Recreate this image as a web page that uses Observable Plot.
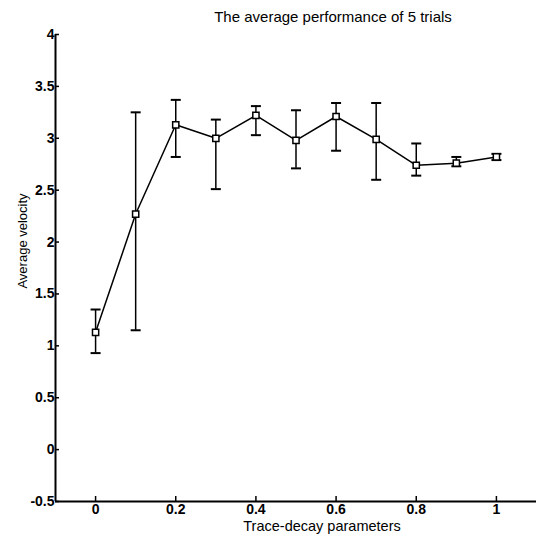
<!DOCTYPE html>
<html>
<head>
<meta charset="utf-8">
<script src="https://cdn.jsdelivr.net/npm/d3@7"></script>
<script src="https://cdn.jsdelivr.net/npm/@observablehq/plot@0.6"></script>
<style>
  html, body { margin: 0; padding: 0; background: #fff; }
  #title { height: 26px; width: 536px; box-sizing: border-box; padding-top: 9px; padding-left: 130px; text-align: center;
           font-family: "Liberation Sans", Arial, sans-serif; font-size: 15px; color: #000; line-height: 16px; white-space: nowrap; }
  #chart svg { display: block; }
  #chart svg g[aria-label="x-axis tick label"], #chart svg g[aria-label="y-axis tick label"] { font-weight: bold; }
</style>
</head>
<body>
<div id="title">The average performance of 5 trials</div>
<div id="chart"></div>
<script>
const traceDecay = [0, 0.1, 0.2, 0.3, 0.4, 0.5, 0.6, 0.7, 0.8, 0.9, 1.0];
const meanVelocity = [1.13, 2.27, 3.13, 3.00, 3.22, 2.98, 3.21, 2.99, 2.74, 2.76, 2.82];
const errLow  = [0.93, 1.15, 2.82, 2.51, 3.03, 2.71, 2.88, 2.60, 2.64, 2.73, 2.79];
const errHigh = [1.35, 3.25, 3.37, 3.18, 3.31, 3.27, 3.34, 3.34, 2.95, 2.82, 2.85];
const xTicks = [0, 0.2, 0.4, 0.6, 0.8, 1];
const yTicks = [-0.5, 0, 0.5, 1, 1.5, 2, 2.5, 3, 3.5, 4];

const data = traceDecay.map((x, i) => ({x, y: meanVelocity[i], lo: errLow[i], hi: errHigh[i]}));

const capSymbol = { draw(ctx) { ctx.moveTo(-5, 0); ctx.lineTo(5, 0); } };
const font = "Liberation Sans, Arial, sans-serif";

const chart = Plot.plot({
  width: 536,
  height: 510,
  marginTop: 8,
  marginBottom: 35,
  marginLeft: 55,
  marginRight: 0,
  style: { fontFamily: font, fontSize: "14px", color: "#000", background: "#fff", overflow: "visible" },
  x: { domain: [-0.1, 1.1] },
  y: { domain: [-0.5, 4] },
  marks: [
    Plot.ruleX([-0.1], { stroke: "#000", strokeWidth: 2 }),
    Plot.ruleY([-0.5], { stroke: "#000", strokeWidth: 2 }),
    Plot.axisX({ ticks: xTicks, tickSize: -5, tickFormat: () => "", label: null, strokeWidth: 1.5 }),
    Plot.axisX({ ticks: xTicks, tickSize: 0, tickPadding: 3, tickFormat: d => String(d), label: null, fontSize: 14 }),
    Plot.axisY({ ticks: yTicks, tickSize: -4, tickFormat: () => "", label: null, strokeWidth: 1.5 }),
    Plot.axisY({ ticks: yTicks, tickSize: 0, tickPadding: 1, tickFormat: d => String(d), label: null, fontSize: 14 }),
    Plot.text(["Trace-decay parameters"], { frameAnchor: "bottom", dx: 26, dy: 29, fontSize: 14.5, fill: "#000" }),
    Plot.text(["Average velocity"], { frameAnchor: "left", textAnchor: "middle", rotate: -90, dx: -33, dy: -27, fontSize: 13, fill: "#000" }),
    Plot.ruleX(data, { x: "x", y1: "lo", y2: "hi", stroke: "#000", strokeWidth: 1.5 }),
    Plot.dot(data, { x: "x", y: "lo", symbol: capSymbol, stroke: "#000", strokeWidth: 2, fill: "none" }),
    Plot.dot(data, { x: "x", y: "hi", symbol: capSymbol, stroke: "#000", strokeWidth: 2, fill: "none" }),
    Plot.line(data, { x: "x", y: "y", stroke: "#000", strokeWidth: 1.5 }),
    Plot.dot(data, { x: "x", y: "y", symbol: "square", r: 3.5, fill: "#fff", stroke: "#000", strokeWidth: 1.5 })
  ]
});
document.getElementById("chart").appendChild(chart);
</script>
</body>
</html>
